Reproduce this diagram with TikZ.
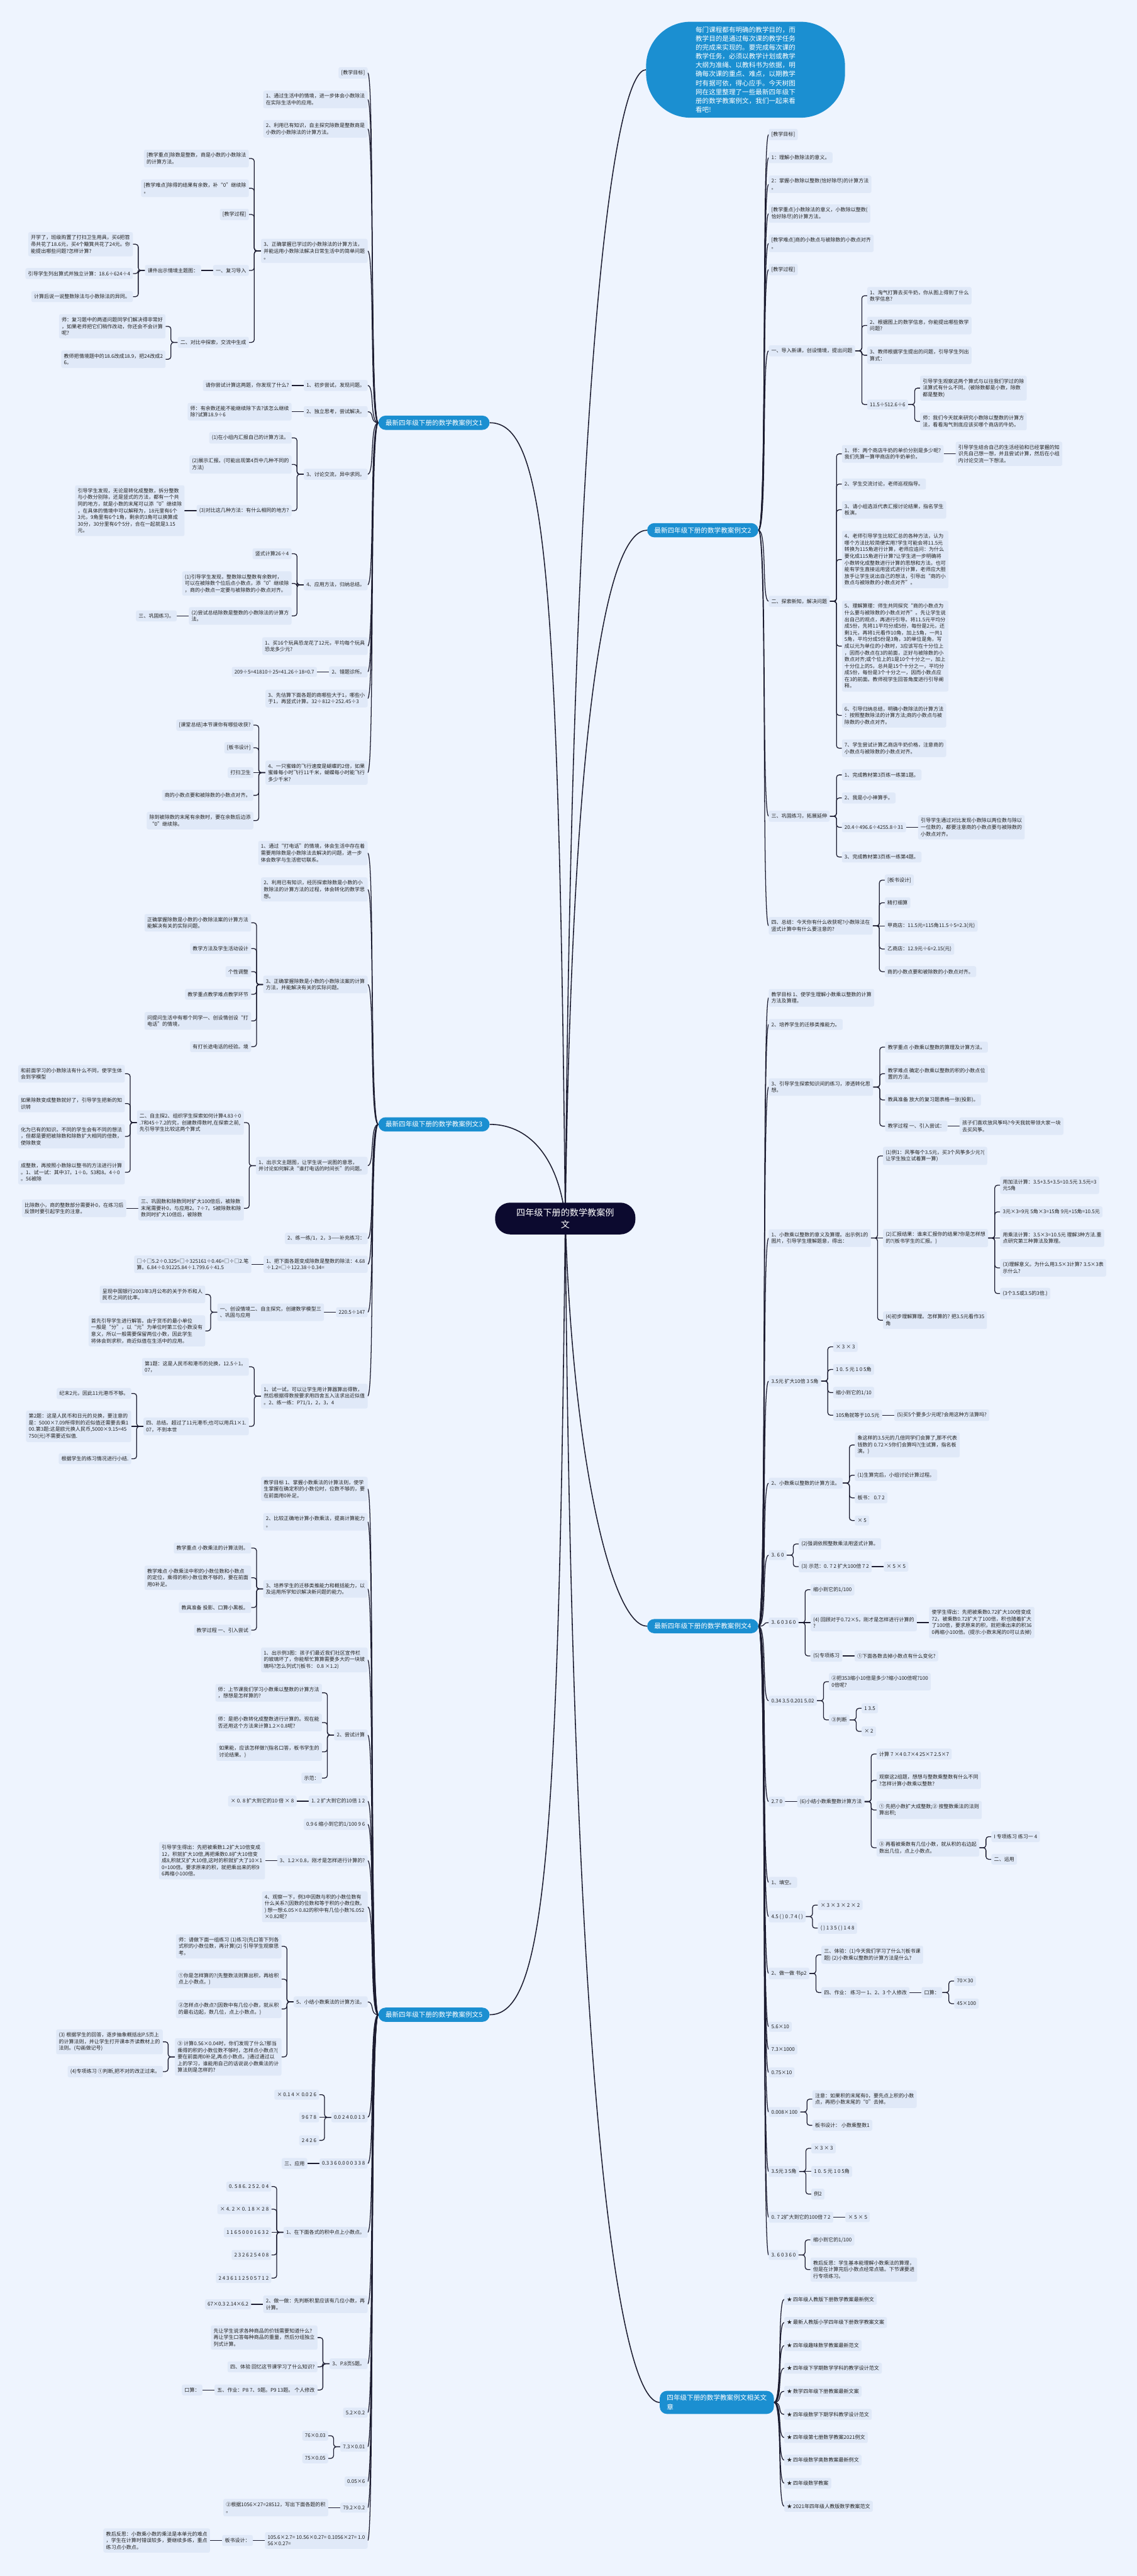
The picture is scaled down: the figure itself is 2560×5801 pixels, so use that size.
\documentclass[tikz,border=0pt]{standalone}
\usepackage{fontspec}
\setmainfont{Noto Sans CJK SC}
\usetikzlibrary{calc}
\definecolor{bgc}{HTML}{EEF4FE}
\definecolor{leafc}{HTML}{E0E9F8}
\definecolor{linec}{HTML}{1C1C30}
\definecolor{branchc}{HTML}{1B8FD1}
\definecolor{rootc}{HTML}{0C0A2F}
\definecolor{textc}{HTML}{222222}
\pgfdeclarelayer{bg}
\pgfsetlayers{bg,main}
\tikzset{
  leaf/.style={fill=leafc, rounded corners=4pt, inner xsep=6pt, inner ysep=7pt, align=left, text=textc, font=\fontsize{11.4}{15}\selectfont},
  conn/.style={draw=linec, line width=1.8pt},
  mainconn/.style={draw=linec, line width=2.2pt},
  branchnode/.style={fill=branchc, text=white, rounded corners=16pt, font=\fontsize{15}{20}\selectfont, inner xsep=16pt, inner ysep=9pt, align=left},
  rootnode/.style={fill=rootc, text=white, rounded corners=34pt, align=center, font=\fontsize{20}{27}\selectfont, inner xsep=48pt, inner ysep=13pt},
  topnode/.style={fill=branchc, text=white, rounded corners=100pt, minimum width=448pt, minimum height=216pt, align=left, font=\fontsize{15}{20}\selectfont, inner sep=0pt}
}
\newcommand{\Lone}[5]{\node[leaf,anchor=east] (#2) at (#3,#4) {#5};
 \begin{pgfonlayer}{bg}\draw[conn] (#1.west) .. controls +(-20,0) and +(16,0) .. (#2.east);\end{pgfonlayer}}
\newcommand{\Rone}[5]{\node[leaf,anchor=west] (#2) at (#3,#4) {#5};
 \begin{pgfonlayer}{bg}\draw[conn] (#1.east) .. controls +(20,0) and +(-16,0) .. (#2.west);\end{pgfonlayer}}
\newcommand{\Lch}[4]{\path (#1.west); \pgfgetlastxy{\qqx}{\qqy}%
 \node[leaf,anchor=east] (#2) at (\qqx-27pt,-#3pt) {#4};
 \begin{pgfonlayer}{bg}\draw[conn,rounded corners=6pt] (#1.west) -- ++(-15,0) |- (#2.east);\end{pgfonlayer}}
\newcommand{\Rch}[4]{\path (#1.east); \pgfgetlastxy{\qqx}{\qqy}%
 \node[leaf,anchor=west] (#2) at (\qqx+27pt,-#3pt) {#4};
 \begin{pgfonlayer}{bg}\draw[conn,rounded corners=6pt] (#1.east) -- ++(15,0) |- (#2.west);\end{pgfonlayer}}
\newcommand{\Lsg}[3]{\path (#1.west); \pgfgetlastxy{\qqx}{\qqy}%
 \node[leaf,anchor=east] (#2) at (\qqx-27pt,\qqy) {#3};
 \begin{pgfonlayer}{bg}\draw[conn] (#1.west) -- (#2.east);\end{pgfonlayer}}
\newcommand{\Rsg}[3]{\path (#1.east); \pgfgetlastxy{\qqx}{\qqy}%
 \node[leaf,anchor=west] (#2) at (\qqx+27pt,\qqy) {#3};
 \begin{pgfonlayer}{bg}\draw[conn] (#1.east) -- (#2.west);\end{pgfonlayer}}
\begin{document}
\begin{tikzpicture}[x=1pt,y=-1pt]
\begin{pgfonlayer}{bg}
\fill[bgc] (0,0) rectangle (2560,5801);
\end{pgfonlayer}
\useasboundingbox (0,0) rectangle (2560,5801);
% ---------- top and root ----------
\node[topnode] (T) at (1679,157) {每门课程都有明确的教学目的，而\\教学目的是通过每次课的教学任务\\的完成来实现的。要完成每次课的\\教学任务，必须以教学计划或教学\\大纲为准绳、以教科书为依据，明\\确每次课的重点、难点，以期教学\\时有据可依，得心应手。今天树图\\网在这里整理了一些最新四年级下\\册的数学教案例文，我们一起来看\\看吧!};
\node[rootnode] (R) at (1273,2744) {四年级下册的数学教案例\\文};
\node[branchnode,anchor=west] (B1) at (852,952) {最新四年级下册的数学教案例文1};
\node[branchnode,anchor=west] (B3) at (852,2532) {最新四年级下册的数学教案例文3};
\node[branchnode,anchor=west] (B5) at (852,4537) {最新四年级下册的数学教案例文5};
\node[branchnode,anchor=east] (B2) at (1708,1194) {最新四年级下册的数学教案例文2};
\node[branchnode,anchor=east] (B4) at (1708,3662) {最新四年级下册的数学教案例文4};
\node[branchnode,anchor=east] (B6) at (1743,5410) {四年级下册的数学教案例文相关文\\章};
\begin{pgfonlayer}{bg}
\draw[mainconn] (B1.east) .. controls (1225,952) and (1258,1250) .. (R.center);
\draw[mainconn] (B3.east) .. controls (1200,2532) and (1260,2620) .. (R.center);
\draw[mainconn] (B5.east) .. controls (1225,4537) and (1258,4200) .. (R.center);
\draw[mainconn] (T.west) .. controls (1390,157) and (1290,700) .. (R.center);
\draw[mainconn] (B2.west) .. controls (1380,1194) and (1290,1500) .. (R.center);
\draw[mainconn] (B4.west) .. controls (1380,3662) and (1290,3300) .. (R.center);
\draw[mainconn] (B6.west) .. controls (1400,5410) and (1290,4800) .. (R.center);
\end{pgfonlayer}
% ---------- branch 1 ----------
\Lone{B1}{A1}{828}{164}{[教学目标]}
\Lone{B1}{A2}{828}{224}{1、通过生活中的情境，进一步体会小数除法\\在实际生活中的应用。}
\Lone{B1}{A3}{828}{290}{2、利用已有知识，自主探究除数是整数商是\\小数的小数除法的计算方法。}
\Lone{B1}{A4}{828}{565}{3、正确掌握已学过的小数除法的计算方法，\\并能运用小数除法解决日常生活中的简单问题\\。}
\Lch{A4}{A4a}{357}{[教学重点]除数是整数，商是小数的小数除法\\的计算方法。}
\Lch{A4}{A4b}{424}{[教学难点]除得的结果有余数，补“0”继续除\\。}
\Lch{A4}{A4c}{483}{[教学过程]}
\Lch{A4}{A4d}{609}{一、复习导入}
\Lch{A4}{A4e}{771}{二、对比中探索，交流中生成}
\Lsg{A4d}{A4d1}{课件出示情境主题图：}
\Lch{A4d1}{A4d1a}{550}{开学了，班级购置了打扫卫生用具，买6把笤\\帚共花了18.6元，买4个簸箕共花了24元。你\\能提出哪些问题?怎样计算?}
\Lch{A4d1}{A4d1b}{616}{引导学生列出算式并独立计算：18.6÷624÷4}
\Lch{A4d1}{A4d1c}{668}{计算后说一说整数除法与小数除法的异同。}
\Lch{A4e}{A4e1}{735}{师：复习题中的两道问题同学们解决得非常好\\，如果老师把它们稍作改动，你还会不会计算\\呢?}
\Lch{A4e}{A4e2}{809}{教师把情境题中的18.6改成18.9，把24改成2\\6。}
\Lone{B1}{A5}{828}{868}{1、初步尝试，发现问题。}
\Lsg{A5}{A5a}{请你尝试计算这两题，你发现了什么?}
\Lone{B1}{A6}{828}{927}{2、独立思考，尝试解决。}
\Lsg{A6}{A6a}{师：有余数还能不能继续除下去?该怎么继续\\除?试算18.9÷6}
\Lone{B1}{A7}{828}{1068}{3、讨论交流，异中求同。}
\Lch{A7}{A7a}{986}{(1)在小组内汇报自己的计算方法。}
\Lch{A7}{A7b}{1046}{(2)展示汇报。(可能出现第4页中几种不同的\\方法)}
\Lch{A7}{A7c}{1150}{(3)对比这几种方法：有什么相同的地方?}
\Lsg{A7c}{A7c1}{引导学生发现，无论是转化成整数，拆分整数\\与小数分别除，还是竖式的方法，都有一个共\\同的地方，就是小数的末尾可以添“0”继续除\\，在具体的情境中可以解释为，18元里有6个\\3元，9角里有6个1角，剩余的3角可以换算成\\30分，30分里有6个5分，合在一起就是3.15\\元。}
\Lone{B1}{A8}{828}{1317}{4、应用方法，归纳总结。}
\Lch{A8}{A8a}{1247}{竖式计算26÷4}
\Lch{A8}{A8b}{1314}{(1)引导学生发现，整数除以整数有余数时，\\可以在被除数个位后点小数点，添“0”继续除\\，商的小数点一定要与被除数的小数点对齐。}
\Lch{A8}{A8c}{1387}{(2)尝试总结除数是整数的小数除法的计算方\\法。}
\Lsg{A8c}{A8c1}{三、巩固练习。}
\Lone{B1}{A9}{828}{1455}{1、买16个玩具恐龙花了12元，平均每个玩具\\恐龙多少元?}
\Lone{B1}{A10}{828}{1513}{2、错题诊所。}
\Lsg{A10}{A10a}{209÷5=41810÷25=41.26÷18=0.7}
\Lone{B1}{A11}{828}{1573}{3、先估算下面各题的商哪些大于1，哪些小\\于1，再竖式计算。32÷812÷252.45÷3}
\Lone{B1}{A12}{828}{1740}{4、一只蜜蜂的飞行速度是蝴蝶的2倍，如果\\蜜蜂每小时飞行11千米，蝴蝶每小时能飞行\\多少千米?}
\Lch{A12}{A12a}{1633}{[课堂总结]本节课你有哪些收获?}
\Lch{A12}{A12b}{1684}{[板书设计]}
\Lsg{A12}{A12c}{打扫卫生}
\Lch{A12}{A12d}{1791}{商的小数点要和被除数的小数点对齐。}
\Lch{A12}{A12e}{1848}{除到被除数的末尾有余数时，要在余数后边添\\“0”继续除。}
% ---------- branch 3 ----------
\Lone{B3}{C1}{828}{1921}{1、通过“打电话”的情境，体会生活中存在着\\需要用除数是小数除法去解决的问题，进一步\\体会数学与生活密切联系。}
\Lone{B3}{C2}{828}{2003}{2、利用已有知识，经历探索除数是小数的小\\数除法的计算方法的过程，体会转化的数学思\\想。}
\Lone{B3}{C3}{828}{2217}{3、正确掌握除数是小数的小数除法案的计算\\方法，并能解决有关的实际问题。}
\Lch{C3}{C3a}{2078}{正确掌握除数是小数的小数除法案的计算方法\\能解决有关的实际问题。}
\Lch{C3}{C3b}{2136}{教学方法及学生活动设计}
\Lch{C3}{C3c}{2188}{个性调整}
\Lch{C3}{C3d}{2239}{教学重点教学难点教学环节}
\Lch{C3}{C3e}{2299}{问提问生活中有哪个同学一、创设情创设“打\\电话”的情境，}
\Lch{C3}{C3f}{2357}{有打长途电话的经验。境}
\Lone{B3}{C4}{828}{2625}{1、出示文主题图，让学生说一说图的意思，\\并讨论如何解决“谁打电话的时间长”的问题。}
\Lch{C4}{C4a}{2528}{二、自主探2、组织学生探索如何计算4.83÷0\\.7和45÷7.2的究，创建数得数时,在探索之前,\\先引导学生比较这两个算式}
\Lch{C4a}{C4a1}{2418}{和前面学习的小数除法有什么不同，使学生体\\会到学模型}
\Lch{C4a}{C4a2}{2485}{如果除数变成整数就好了，引导学生把新的知\\识转}
\Lch{C4a}{C4a3}{2559}{化为已有的知识。不同的学生会有不同的想法\\，但都是要把被除数和除数扩大相同的倍数，\\使除数变}
\Lch{C4a}{C4a4}{2640}{成整数，再按照小数除以整书的方法进行计算\\。1、试一试：其中37。1÷0。53和8。4÷0\\。56被除}
\Lch{C4}{C4b}{2721}{三、巩固数和除数同时扩大100倍后，被除数\\末尾需要补0，与应用2。7÷7。5被除数和除\\数同时扩大10倍后，被除数}
\Lsg{C4b}{C4b1}{比除数小，商的整数部分需要补0，在练习后\\反馈时要引起学生的注意。}
\Lone{B3}{C5}{828}{2789}{2、练一练/1，2，3——补充练习：}
\Lone{B3}{C6}{828}{2847}{1、把下面各题变成除数是整数的除法：4.68\\÷1.2=□÷122.38÷0.34=}
\Lsg{C6}{C6a}{□÷□5.2÷0.325=□÷325161÷0.46=□÷□2.笔\\算。6.84÷0.91225.84÷1.799.6÷41.5}
\Lone{B3}{C7}{828}{2955}{220.5÷147}
\Lsg{C7}{C7a}{一、创设情境二、自主探究，创建数学模型三\\、巩固与应用}
\Lch{C7a}{C7a1}{2915}{呈现中国银行2003年3月公布的关于外币和人\\民币之间的比率。}
\Lch{C7a}{C7a2}{2997}{首先引导学生进行解答。由于货币的最小单位\\一般是“分”，以“元”为单位时第三位小数没有\\意义，所以一般需要保留两位小数，因此学生\\将体会到求积，商近似值在生活中的应用。}
\Lone{B3}{C8}{828}{3144}{1、试一试，可以让学生用计算器算出得数，\\然后根据得数按要求用四舍五入法求出近似值\\。2、练一练：P71/1，2，3，4}
\Lch{C8}{C8a}{3078}{第1题：这是人民币和港币的兑换，12.5÷1。\\07，}
\Lch{C8}{C8b}{3212}{四、总结。超过了11元港币;也可以用兵1×1.\\07，不到本世}
\Lch{C8b}{C8b1}{3138}{纪末2元，因此11元港币不够。}
\Lsg{C8b}{C8b2}{第2题：这是人民币和日元的兑换，要注意的\\是：5000×7.09所得到的近似值还需要去乘1\\00.第3题:这是欧元换人民币,5000×9.15=45\\750(元)不需要近似值.}
\Lch{C8b}{C8b3}{3285}{根据学生的练习情况进行小结.}
% ---------- branch 5 ----------
\Lone{B5}{D1}{828}{3353}{教学目标 1、掌握小数乘法的计算法则，使学\\生掌握在确定积的小数位时，位数不够的，要\\在前面用0补足。}
\Lone{B5}{D2}{828}{3427}{2、比较正确地计算小数乘法，提高计算能力\\。}
\Lone{B5}{D3}{828}{3578}{3、培养学生的迁移类推能力和概括能力，以\\及运用所学知识解决新问题的能力。}
\Lch{D3}{D3a}{3486}{教学重点 小数乘法的计算法则。}
\Lch{D3}{D3b}{3553}{教学难点 小数乘法中积的小数位数和小数点\\的定位，乘得的积小数位数不够的，要在前面\\用0补足。}
\Lch{D3}{D3c}{3620}{教具准备 投影、口算小黑板。}
\Lch{D3}{D3d}{3671}{教学过程 一、引入尝试}
\Lone{B5}{D4}{828}{3738}{1、出示例3图：孩子们最近我们社区宣传栏\\的玻璃坏了，你能帮忙算算需要多大的一块玻\\璃吗?怎么列式?(板书： 0.8 ×1.2)}
\Lone{B5}{D5}{828}{3907}{2、尝试计算}
\Lch{D5}{D5a}{3812}{师：上节课我们学习小数乘以整数的计算方法\\，想想是怎样算的?}
\Lch{D5}{D5b}{3879}{师：是把小数转化成整数进行计算的。现在能\\否还用这个方法来计算1.2×0.8呢?}
\Lch{D5}{D5c}{3945}{如果能，应该怎样做?(指名口答，板书学生的\\讨论结果。)}
\Lch{D5}{D5d}{4004}{示范：}
\Lone{B5}{D6}{828}{4056}{1. 2 扩大到它的10倍 1 2}
\Lsg{D6}{D6a}{× 0. 8 扩大到它的10 倍 × 8}
\Lone{B5}{D7}{828}{4108}{0.9 6 缩小到它的1/100 9 6}
\Lone{B5}{D8}{828}{4190}{3、1.2×0.8，刚才是怎样进行计算的?}
\Lsg{D8}{D8a}{引导学生得出：先把被乘数1.2扩大10倍变成\\12，积就扩大10倍,再把乘数0.8扩大10倍变\\成8,积就又扩大10倍,这时的积就扩大了10×1\\0=100倍。要求原来的积，就把乘出来的积9\\6再缩小100倍。}
\Lone{B5}{D9}{828}{4294}{4、观察一下，例3中因数与积的小数位数有\\什么关系?(因数的位数和等于积的小数位数。\\) 想一想:6.05×0.82的积中有几位小数?6.052\\×0.82呢?}
\Lone{B5}{D10}{828}{4508}{5、小结小数乘法的计算方法。}
\Lch{D10}{D10a}{4383}{师：请做下面一组练习 (1)练习(先口答下列各\\式积的小数位数，再计算)(2) 引导学生观察思\\考。}
\Lch{D10}{D10b}{4457}{①你是怎样算的?(先整数法则算出积，再给积\\点上小数点。)}
\Lch{D10}{D10c}{4524}{②怎样点小数点?(因数中有几位小数，就从积\\的最右边起，数几位，点上小数点。)}
\Lch{D10}{D10d}{4632}{③ 计算0.56×0.04时，你们发现了什么?那当\\乘得的积的小数位数不够时，怎样点小数点?(\\要在前面用0补足,再点小数点。)通过通过以\\上的学习，谁能用自己的话说说小数乘法的计\\算法则是怎样的?}
\Lch{D10d}{D10d1}{4598}{(3) 根据学生的回答，逐步抽象概括出P.5页上\\的计算法则，并让学生打开课本齐读教材上的\\法则。(勾画做记号)}
\Lch{D10d}{D10d2}{4665}{(4)专项练习 ①判断,把不对的改正过来。}
\Lone{B5}{D11}{828}{4768}{0.0 2 4 0.0 1 3}
\Lch{D11}{D11a}{4717}{× 0.1 4 × 0.0 2 6}
\Lsg{D11}{D11b}{9 6 7 8}
\Lch{D11}{D11c}{4820}{2 4 2 6}
\Lone{B5}{D12}{828}{4872}{0.3 3 6 0.0 0 0 3 3 8}
\Lsg{D12}{D12a}{三、应用}
\Lone{B5}{D13}{828}{5027}{1、在下面各式的积中点上小数点。}
\Lch{D13}{D13a}{4924}{0. 5 8 6. 2 5 2. 0 4}
\Lch{D13}{D13b}{4975}{× 4. 2 × 0. 1 8 × 2 8}
\Lsg{D13}{D13c}{1 1 6 5 0 0 0 1 6 3 2}
\Lch{D13}{D13d}{5078}{2 3 2 6 2 5 4 0 8}
\Lch{D13}{D13e}{5130}{2 4 3 6 1 1 2 5 0 5 7 1 2}
\Lone{B5}{D14}{828}{5189}{2、做一做：先判断积里应该有几位小数，再\\计算。}
\Lsg{D14}{D14a}{67×0.3 2.14×6.2}
\Lone{B5}{D15}{828}{5323}{3、P.8页5题。}
\Lch{D15}{D15a}{5264}{先让学生说求各种商品的价钱需要知道什么?\\再让学生口答每种商品的重量，然后分组独立\\列式计算。}
\Lch{D15}{D15b}{5330}{四、体验 回忆这节课学习了什么知识?}
\Lch{D15}{D15c}{5382}{五、作业：P8 7、9题。P9 13题。 个人修改}
\Lsg{D15c}{D15c1}{口算：}
\Lone{B5}{D16}{828}{5433}{5.2×0.2}
\Lone{B5}{D17}{828}{5510}{7.3×0.01}
\Lch{D17}{D17a}{5485}{76×0.03}
\Lch{D17}{D17b}{5536}{75×0.05}
\Lone{B5}{D18}{828}{5588}{0.05×6}
\Lone{B5}{D19}{828}{5647}{79.2×0.2}
\Lsg{D19}{D19a}{②根据1056×27=28512，写出下面各题的积\\。}
\Lone{B5}{D20}{828}{5721}{105.6×2.7= 10.56×0.27= 0.1056×27= 1.0\\56×0.27=}
\Lsg{D20}{D20a}{板书设计：}
\Lsg{D20a}{D20a1}{教后反思：小数乘小数的乘法是本单元的难点\\，学生在计算时错误较多，要继续多练，重点\\练习点小数点。}
% ---------- branch 2 ----------
\Rone{B2}{E1}{1731}{303}{[教学目标]}
\Rone{B2}{E2}{1731}{355}{1：理解小数除法的意义。}
\Rone{B2}{E3}{1731}{415}{2：掌握小数除以整数(恰好除尽)的计算方法\\。}
\Rone{B2}{E4}{1731}{481}{[教学重点]小数除法的意义，小数除以整数(\\恰好除尽)的计算方法。}
\Rone{B2}{E5}{1731}{548}{[教学难点]商的小数点与被除数的小数点对齐\\。}
\Rone{B2}{E6}{1731}{607}{[教学过程]}
\Rone{B2}{E7}{1731}{790}{一、导入新课，创设情境，提出问题}
\Rch{E7}{E7a}{666}{1、淘气打算去买牛奶，你从图上得到了什么\\数学信息?}
\Rch{E7}{E7b}{733}{2、根据图上的数学信息，你能提出哪些数学\\问题?}
\Rch{E7}{E7c}{800}{3、教师根据学生提出的问题，引导学生列出\\算式：}
\Rch{E7}{E7d}{911}{11.5÷512.6÷6}
\Rch{E7d}{E7d1}{874}{引导学生观察这两个算式与以往我们学过的除\\法算式有什么不同。(被除数都是小数，除数\\都是整数)}
\Rch{E7d}{E7d2}{949}{师：我们今天就来研究小数除以整数的计算方\\法，看看淘气到底应该买哪个商店的牛奶。}
\Rone{B2}{E8}{1731}{1354}{二、探索新知，解决问题}
\Rch{E8}{E8a}{1022}{1、师：两个商店牛奶的单价分别是多少呢?\\我们先算一算甲商店的牛奶单价。}
\Rsg{E8a}{E8a1}{引导学生结合自己的生活经验和已经掌握的知\\识先自己想一想，并且尝试计算，然后在小组\\内讨论交流一下想法。}
\Rch{E8}{E8b}{1090}{2、学生交流讨论，老师巡视指导。}
\Rch{E8}{E8c}{1148}{3、请小组选派代表汇报讨论结果，指名学生\\板演。}
\Rch{E8}{E8d}{1260}{4、老师引导学生比较汇总的各种方法，认为\\哪个方法比较简便实用?学生可能会将11.5元\\转换为115角进行计算，老师应追问：为什么\\要化成115角进行计算?让学生进一步明确将\\小数转化成整数进行计算的思想和方法。也可\\能有学生直接运用竖式进行计算，老师应大胆\\放手让学生说出自己的想法，引导出“商的小\\数点与被除数的小数点对齐”。}
\Rch{E8}{E8e}{1455}{5、理解算理：师生共同探究“商的小数点为\\什么要与被除数的小数点对齐”。先让学生说\\出自己的观点，再进行引导。将11.5元平均分\\成5份，先将11平均分成5份，每份是2元，还\\剩1元，再将1元看作10角，加上5角，一共1\\5角，平均分成5份是3角，3的单位是角，写\\成以元为单位的小数时，3应该写在十分位上\\，因而小数点在3的前面，正好与被除数的小\\数点对齐;或个位上的1是10个十分之一，加上\\十分位上的5，总共是15个十分之一，平均分\\成5份，每份是3个十分之一，因而小数点应\\在3的前面。教师视学生回答角度进行引导阐\\释。}
\Rch{E8}{E8f}{1611}{6、引导归纳总结，明确小数除法的计算方法\\：按照整数除法的计算方法;商的小数点与被\\除数的小数点对齐。}
\Rch{E8}{E8g}{1685}{7、学生尝试计算乙商店牛奶价格，注意商的\\小数点与被除数的小数点对齐。}
\Rone{B2}{E9}{1731}{1838}{三、巩固练习，拓展延伸}
\Rch{E9}{E9a}{1745}{1、完成教材第3页练一练第1题。}
\Rch{E9}{E9b}{1797}{2、我是小小神算手。}
\Rch{E9}{E9c}{1863}{20.4÷496.6÷4255.8÷31}
\Rsg{E9c}{E9c1}{引导学生通过对比发现小数除以两位数与除以\\一位数的，都要注意商的小数点要与被除数的\\小数点对齐。}
\Rch{E9}{E9d}{1930}{3、完成教材第3页练一练第4题。}
\Rone{B2}{E10}{1731}{2085}{四、总结：今天你有什么收获呢?小数除法在\\竖式计算中有什么要注意的?}
\Rch{E10}{E10a}{1982}{[板书设计]}
\Rch{E10}{E10b}{2033}{精打细算}
\Rsg{E10}{E10c}{甲商店：11.5元=115角11.5÷5=2.3(元)}
\Rch{E10}{E10d}{2137}{乙商店：12.9元÷6=2.15(元)}
\Rch{E10}{E10e}{2188}{商的小数点要和被除数的小数点对齐。}
% ---------- branch 4 ----------
\Rone{B4}{F1}{1731}{2247}{教学目标 1、使学生理解小数乘以整数的计算\\方法及算理。}
\Rone{B4}{F2}{1731}{2307}{2、培养学生的迁移类推能力。}
\Rone{B4}{F3}{1731}{2448}{3、引导学生探索知识间的练习，渗透转化思\\想。}
\Rch{F3}{F3a}{2358}{教学重点 小数乘以整数的算理及计算方法。}
\Rch{F3}{F3b}{2418}{教学难点 确定小数乘以整数的积的小数点位\\置的方法。}
\Rch{F3}{F3c}{2477}{教具准备 放大的复习题表格一张(投影)。}
\Rch{F3}{F3d}{2536}{教学过程 一、引入尝试：}
\Rsg{F3d}{F3d1}{孩子们喜欢放风筝吗?今天我就带领大家一块\\去买风筝。}
\Rone{B4}{F4}{1731}{2788}{1、小数乘以整数的意义及算理。出示例1的\\图片，引导学生理解题意，得出：}
\Rch{F4}{F4a}{2603}{(1)例1：风筝每个3.5元，买3个风筝多少元?(\\让学生独立试着算一算)}
\Rsg{F4}{F4b}{(2)汇报结果：谁来汇报你的结果?你是怎样想\\的?(板书学生的汇报。)}
\Rch{F4b}{F4b1}{2669}{用加法计算：3.5+3.5+3.5=10.5元 3.5元=3\\元5角}
\Rch{F4b}{F4b2}{2729}{3元×3=9元 5角×3=15角 9元+15角=10.5元}
\Rsg{F4b}{F4b3}{用乘法计算：3.5×3=10.5元 理解3种方法.重\\点研究第三种算法及算理。}
\Rch{F4b}{F4b4}{2855}{(3)理解意义。为什么用3.5×3计算? 3.5×3表\\示什么?}
\Rch{F4b}{F4b5}{2913}{(3个3.5或3.5的3倍.)}
\Rch{F4}{F4c}{2973}{(4)初步理解算理。怎样算的? 把3.5元看作35\\角}
\Rone{B4}{F5}{1731}{3110}{3.5元 扩大10倍 3 5角}
\Rch{F5}{F5a}{3033}{× 3 × 3}
\Rch{F5}{F5b}{3084}{1 0. 5 元 1 0 5角}
\Rch{F5}{F5c}{3136}{缩小到它的1/10}
\Rch{F5}{F5d}{3187}{105角就等于10.5元}
\Rsg{F5d}{F5d1}{(5)买5个要多少元呢?会用这种方法算吗?}
\Rone{B4}{F6}{1731}{3340}{2、小数乘以整数的计算方法。}
\Rch{F6}{F6a}{3254}{象这样的3.5元的几倍同学们会算了,那不代表\\钱数的 0.72×5你们会算吗?(生试算，指名板\\演。)}
\Rch{F6}{F6b}{3322}{(1)生算完后，小组讨论计算过程。}
\Rch{F6}{F6c}{3373}{板书： 0.7 2}
\Rch{F6}{F6d}{3424}{× 5}
\Rone{B4}{F7}{1731}{3502}{3. 6 0}
\Rch{F7}{F7a}{3477}{(2)强调依照整数乘法用竖式计算。}
\Rch{F7}{F7b}{3528}{(3) 示范：0. 7 2 扩大100倍 7 2}
\Rsg{F7b}{F7b1}{× 5 × 5}
\Rone{B4}{F8}{1731}{3654}{3. 6 0 3 6 0}
\Rch{F8}{F8a}{3580}{缩小到它的1/100}
\Rsg{F8}{F8b}{(4) 回顾对于0.72×5，刚才是怎样进行计算的\\?}
\Rsg{F8b}{F8b1}{使学生得出：先把被乘数0.72扩大100倍变成\\72，被乘数0.72扩大了100倍，积也随着扩大\\了100倍，要求原来的积，就把乘出来的积36\\0再缩小100倍。(提示:小数末尾的0可以去掉)}
\Rch{F8}{F8c}{3729}{(5)专项练习}
\Rsg{F8c}{F8c1}{①下面各数去掉小数点有什么变化?}
\Rone{B4}{F9}{1731}{3830}{0.34 3.5 0.201 5.02}
\Rch{F9}{F9a}{3787}{②把353缩小10倍是多少?缩小100倍呢?100\\0倍呢?}
\Rch{F9}{F9b}{3873}{③判断}
\Rch{F9b}{F9b1}{3847}{1 3.5}
\Rch{F9b}{F9b2}{3899}{× 2}
\Rone{B4}{F10}{1731}{4057}{2.7 0}
\Rsg{F10}{F10a}{(6)小结小数乘整数计算方法}
\Rch{F10a}{F10a1}{3950}{计算 7 ×4 0.7×4 25×7 2.5×7}
\Rch{F10a}{F10a2}{4009}{观察这2组题，想想与整数乘整数有什么不同\\?怎样计算小数乘以整数?}
\Rch{F10a}{F10a3}{4076}{① 先把小数扩大成整数;② 按整数乘法的法则\\算出积;}
\Rch{F10a}{F10a4}{4161}{③ 再看被乘数有几位小数，就从积的右边起\\数出几位，点上小数点。}
\Rch{F10a4}{F10a4a}{4136}{I 专项练习 练习一 4}
\Rch{F10a4}{F10a4b}{4187}{二、运用}
\Rone{B4}{F11}{1731}{4239}{1、填空。}
\Rone{B4}{F12}{1731}{4316}{4.5 ( ) 0 .7 4 ( )}
\Rch{F12}{F12a}{4290}{× 3 × 3 × 2 × 2}
\Rch{F12}{F12b}{4342}{( ) 1 3 5 ( ) 1 4 8}
\Rone{B4}{F13}{1731}{4444}{2、做一做 书p2}
\Rch{F13}{F13a}{4402}{三、体验：(1)今天我们学习了什么?(板书课\\题) (2)小数乘以整数的计算方法是什么?}
\Rch{F13}{F13b}{4487}{四、作业： 练习一 1、2、3 个人修改}
\Rsg{F13b}{F13b1}{口算：}
\Rch{F13b1}{F13b1a}{4461}{70×30}
\Rch{F13b1}{F13b1b}{4512}{45×100}
\Rone{B4}{F14}{1731}{4564}{5.6×10}
\Rone{B4}{F15}{1731}{4615}{7.3×1000}
\Rone{B4}{F16}{1731}{4667}{0.75×10}
\Rone{B4}{F17}{1731}{4756}{0.008×100}
\Rch{F17}{F17a}{4727}{注意：如果积的末尾有0，要先点上积的小数\\点，再把小数末尾的“0”去掉。}
\Rch{F17}{F17b}{4786}{板书设计： 小数乘整数1}
\Rone{B4}{F18}{1731}{4890}{3.5元 3 5角}
\Rch{F18}{F18a}{4838}{× 3 × 3}
\Rsg{F18}{F18b}{1 0. 5 元 1 0 5角}
\Rch{F18}{F18c}{4941}{例2}
\Rone{B4}{F19}{1731}{4993}{0. 7 2扩大到它的100倍 7 2}
\Rsg{F19}{F19a}{× 5 × 5}
\Rone{B4}{F20}{1731}{5078}{3. 6 0 3 6 0}
\Rch{F20}{F20a}{5044}{缩小到它的1/100}
\Rch{F20}{F20b}{5111}{教后反思：学生基本能理解小数乘法的算理，\\但是在计算完后小数点经常点错。下节课要进\\行专项练习。}
% ---------- branch 6 ----------
\Rone{B6}{G1}{1766}{5178}{★ 四年级人教版下册数学教案最新例文}
\Rone{B6}{G2}{1766}{5230}{★ 最新人教版小学四年级下册数学教案文案}
\Rone{B6}{G3}{1766}{5282}{★ 四年级趣味数学教案最新范文}
\Rone{B6}{G4}{1766}{5333}{★ 四年级下学期数学学科的教学设计范文}
\Rone{B6}{G5}{1766}{5385}{★ 数学四年级下册教案最新文案}
\Rone{B6}{G6}{1766}{5437}{★ 四年级数学下期学科教学设计范文}
\Rone{B6}{G7}{1766}{5489}{★ 四年级第七册数学教案2021例文}
\Rone{B6}{G8}{1766}{5540}{★ 四年级数学奥数教案最新例文}
\Rone{B6}{G9}{1766}{5592}{★ 四年级数学教案}
\Rone{B6}{G10}{1766}{5644}{★ 2021年四年级人教版数学教案范文}
\end{tikzpicture}
\end{document}
